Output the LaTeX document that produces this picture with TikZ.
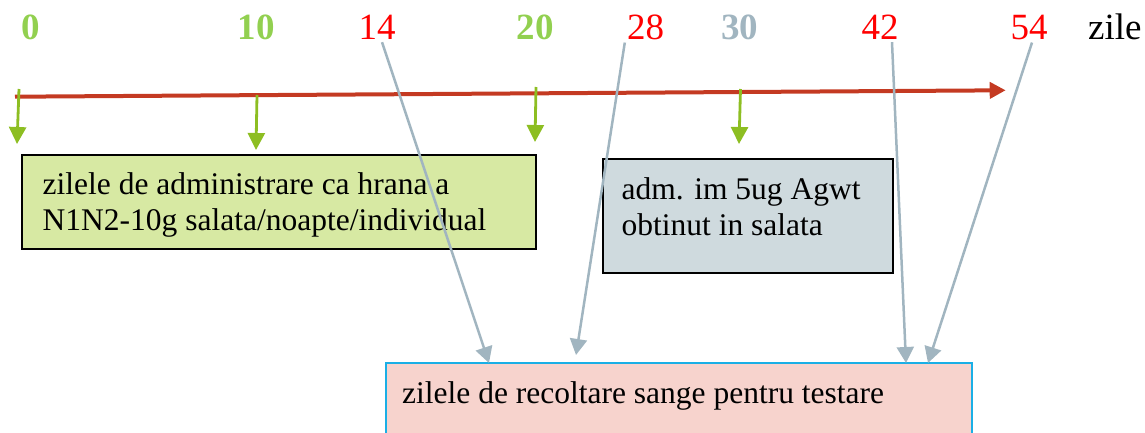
\documentclass[tikz,border=0pt]{standalone}
\usepackage{fontspec}
\setmainfont{Liberation Serif}
\usetikzlibrary{arrows.meta, positioning, calc}

\definecolor{doseGreen}{HTML}{92D050}
\definecolor{arrowGreen}{HTML}{8DBE22}
\definecolor{axisRed}{HTML}{C43A22}
\definecolor{bleedGray}{HTML}{A1B5C0}
\definecolor{admFill}{HTML}{D7E9A3}
\definecolor{agwtFill}{HTML}{CFDADE}
\definecolor{recFill}{HTML}{F7D3CD}
\definecolor{recDraw}{HTML}{1AAFE6}

\begin{document}
\begin{tikzpicture}[
    x=1pt, y=-1pt,
    day/.style={anchor=base, inner sep=2pt, font=\fontsize{37}{40}\selectfont},
    doseday/.style={day, text=doseGreen, font=\fontsize{37}{40}\selectfont\bfseries},
    bleedday/.style={day, text=red},
    agwtday/.style={day, text=bleedGray, font=\fontsize{37}{40}\selectfont\bfseries},
    infobox/.style={rectangle, anchor=north west, line width=2pt, inner sep=0pt},
    infotext/.style={anchor=base west, align=left, inner sep=0pt, font=\fontsize{31.5}{36}\selectfont},
    dose/.style={-{Triangle[width=17pt, length=17pt]}, arrowGreen, line width=2.8pt},
    bleed/.style={-{Triangle[width=17pt, length=16pt]}, bleedGray, line width=2.5pt}
]
   \useasboundingbox (0,0) rectangle (1145,433);

   % Days
   \node[doseday] (d0) at (30.5,40) {0};
   \node[doseday] (d10) at (256,40) {10};
   \node[bleedday] (d14) at (377,40) {14};
   \node[doseday] (d20) at (535,40) {20};
   \node[bleedday] (d28) at (645.5,40) {28};
   \node[agwtday] (d30) at (739.5,40) {30};
   \node[bleedday] (d42) at (880,40) {42};
   \node[bleedday] (d54) at (1029,40) {54};
   \node[day, anchor=base west] (unit) at (1086,40) {zile};

   % Time axis
   \coordinate (axL) at (15,96.7);
   \coordinate (axR) at (1005.7,90.3);
   \draw[-{Triangle[width=16pt, length=16pt]}, axisRed, line width=4pt] (axL) -- (axR);

   % Boxes (base of a two-line text is its last line)
   \node[infobox, draw=black, fill=admFill, minimum width=514pt, minimum height=94pt] (admBox) at (21,154) {};
   \node[infotext] (admTxt) at (42.5,230) {zilele de administrare ca hrana a\\N1N2-10g salata/noapte/individual};
   \node[infobox, draw=black, fill=agwtFill, minimum width=290pt, minimum height=114pt] (agwtBox) at (601.5,158) {};
   \node[infotext] (agwtTxt) at (621.5,235.5) {adm. im 5ug Agwt\\obtinut in salata};
   \node[infobox, draw=recDraw, fill=recFill, minimum width=586pt, minimum height=110pt] (recBox) at (385,362) {};
   \node[infotext] (recTxt) at (402,403) {zilele de recoltare sange pentru testare};

   % Dosing days
   \coordinate (g0s) at (19,89);    \coordinate (g0e) at (17,144);
   \coordinate (g10s) at (257,95);  \coordinate (g10e) at (256,150);
   \coordinate (g20s) at (536,87);  \coordinate (g20e) at (535,142);
   \coordinate (g30s) at (740.5,89); \coordinate (g30e) at (739,144);
   \path[dose]
   (g0s) edge (g0e)
   (g10s) edge (g10e)
   (g20s) edge (g20e)
   (g30s) edge (g30e);

   % Bleeding days
   \path[bleed]
   ([xshift=5pt]d14.south) edge ($(recBox.north west)+(104,1)$)
   (d28.south west) edge ($(recBox.north west)+(191,-7)$)
   ([xshift=12pt]d42.south) edge ($(recBox.north west)+(521,1)$)
   ([xshift=3pt]d54.south) edge ($(recBox.north west)+(543,1)$);
\end{tikzpicture}
\end{document}
